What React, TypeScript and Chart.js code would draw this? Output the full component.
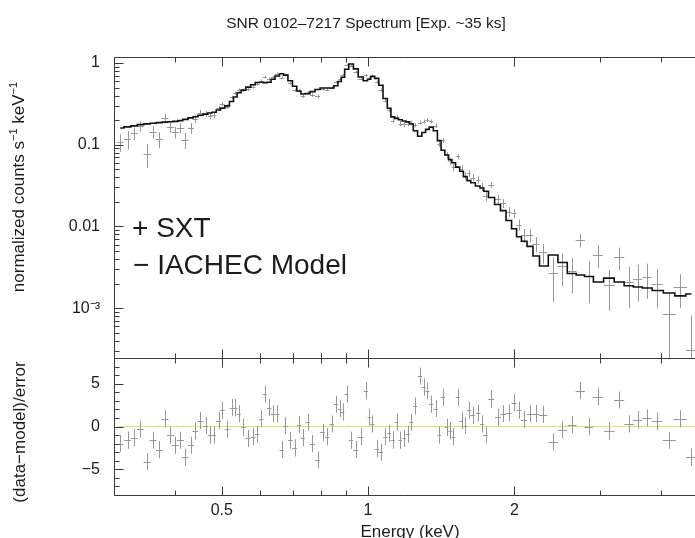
import React, { useEffect, useRef } from 'react';
import { Chart, registerables } from 'chart.js';

Chart.register(...registerables);

// ---------------- data ----------------
const energyKeV = [
  0.309, 0.320, 0.330, 0.340, 0.351, 0.361, 0.372, 0.382, 0.392, 0.401,
  0.411, 0.420, 0.432, 0.441, 0.452, 0.463, 0.473, 0.481, 0.493, 0.501,
  0.513, 0.524, 0.533, 0.542, 0.554, 0.567, 0.580, 0.592, 0.603, 0.613,
  0.626, 0.637, 0.650, 0.664, 0.676, 0.692, 0.706, 0.721, 0.734, 0.751,
  0.768, 0.787, 0.806, 0.824, 0.842, 0.859, 0.875, 0.887, 0.903, 0.922,
  0.944, 0.965, 0.990, 1.005, 1.021, 1.043, 1.061, 1.086, 1.105, 1.124,
  1.145, 1.165, 1.186, 1.207, 1.228, 1.250, 1.279, 1.302, 1.325, 1.348,
  1.377, 1.401, 1.426, 1.452, 1.477, 1.498, 1.530, 1.557, 1.585, 1.613,
  1.641, 1.685, 1.715, 1.746, 1.793, 1.850, 1.896, 1.950, 1.998, 2.045,
  2.092, 2.156, 2.214, 2.293, 2.407, 2.512, 2.630, 2.734, 2.846, 2.973,
  3.135, 3.287, 3.445, 3.588, 3.750, 3.938, 4.169, 4.392, 4.630,
];

const binHalfWidthKeV = [
  0.005, 0.005, 0.0055, 0.0055, 0.006, 0.006, 0.006, 0.0065, 0.0065, 0.0065,
  0.007, 0.007, 0.006, 0.006, 0.006, 0.0055, 0.005, 0.005, 0.006, 0.006,
  0.006, 0.005, 0.005, 0.005, 0.006, 0.0065, 0.0065, 0.006, 0.006, 0.006,
  0.0065, 0.0065, 0.007, 0.007, 0.007, 0.0075, 0.0075, 0.007, 0.007, 0.008,
  0.009, 0.009, 0.009, 0.009, 0.009, 0.008, 0.007, 0.007, 0.008, 0.010,
  0.011, 0.012, 0.010, 0.008, 0.010, 0.011, 0.011, 0.011, 0.010, 0.010,
  0.010, 0.010, 0.011, 0.011, 0.011, 0.012, 0.013, 0.012, 0.012, 0.013,
  0.014, 0.012, 0.013, 0.013, 0.012, 0.013, 0.015, 0.014, 0.014, 0.014,
  0.018, 0.018, 0.016, 0.020, 0.026, 0.026, 0.026, 0.025, 0.024, 0.024,
  0.030, 0.032, 0.035, 0.045, 0.055, 0.055, 0.055, 0.060, 0.060, 0.070,
  0.080, 0.080, 0.080, 0.075, 0.080, 0.100, 0.130, 0.140, 0.120,
];

const modelCounts = [
  0.160, 0.165, 0.170, 0.176, 0.180, 0.183, 0.186, 0.189, 0.191, 0.193,
  0.197, 0.204, 0.213, 0.220, 0.229, 0.237, 0.244, 0.250, 0.266, 0.280,
  0.299, 0.338, 0.383, 0.432, 0.466, 0.506, 0.541, 0.577, 0.581, 0.575,
  0.581, 0.632, 0.693, 0.740, 0.711, 0.607, 0.520, 0.454, 0.418, 0.422,
  0.446, 0.474, 0.494, 0.494, 0.494, 0.526, 0.594, 0.670, 0.840, 0.970,
  0.847, 0.674, 0.607, 0.632, 0.685, 0.648, 0.533, 0.367, 0.279, 0.219,
  0.210, 0.202, 0.195, 0.190, 0.179, 0.148, 0.127, 0.141, 0.154, 0.164,
  0.148, 0.112, 0.0854, 0.0748, 0.0657, 0.0602, 0.0532, 0.0473, 0.0407, 0.0363,
  0.0342, 0.0312, 0.0295, 0.0269, 0.0226, 0.0185, 0.0156, 0.0118, 0.00935, 0.00748,
  0.00657, 0.00569, 0.00434, 0.00327, 0.00447, 0.00361, 0.00265, 0.00254, 0.00244, 0.00209,
  0.00233, 0.00209, 0.00188, 0.00181, 0.00176, 0.00164, 0.00153, 0.00141, 0.00149,
];

const sxtCounts = [
  0.108, 0.117, 0.138, 0.169, 0.077, 0.143, 0.116, 0.212, 0.166, 0.142,
  0.160, 0.114, 0.160, 0.208, 0.244, 0.239, 0.224, 0.230, 0.279, 0.316,
  0.293, 0.380, 0.427, 0.464, 0.464, 0.474, 0.512, 0.555, 0.603, 0.670,
  0.636, 0.671, 0.733, 0.664, 0.714, 0.567, 0.463, 0.458, 0.392, 0.432,
  0.406, 0.392, 0.479, 0.469, 0.500, 0.583, 0.642, 0.713, 0.943, 0.920,
  0.771, 0.644, 0.708, 0.658, 0.693, 0.586, 0.467, 0.345, 0.266, 0.197,
  0.217, 0.181, 0.177, 0.179, 0.185, 0.174, 0.186, 0.192, 0.200, 0.193,
  0.171, 0.103, 0.113, 0.0741, 0.0625, 0.053, 0.0719, 0.0508, 0.0412, 0.0445,
  0.0395, 0.0373, 0.0306, 0.0235, 0.0322, 0.0215, 0.0192, 0.0152, 0.0144, 0.0105,
  0.00777, 0.0078, 0.0061, 0.0048, 0.00267, 0.00325, 0.00283, 0.0068, 0.00244, 0.0045,
  0.00193, 0.0042, 0.0021, 0.0023, 0.0024, 0.0020, 0.00085, 0.0018, 0.00031,
];

const sxtCountsErr = [
  0.026, 0.030, 0.025, 0.025, 0.025, 0.025, 0.026, 0.026, 0.025, 0.023,
  0.023, 0.025, 0.024, 0.024, 0.022, 0.021, 0.020, 0.020, 0.019, 0.019,
  0.019, 0.019, 0.020, 0.021, 0.022, 0.023, 0.024, 0.025, 0.025, 0.025,
  0.025, 0.026, 0.027, 0.028, 0.027, 0.025, 0.023, 0.021, 0.020, 0.020,
  0.020, 0.021, 0.021, 0.021, 0.021, 0.022, 0.023, 0.025, 0.027, 0.030,
  0.028, 0.025, 0.024, 0.024, 0.025, 0.024, 0.022, 0.018, 0.016, 0.014,
  0.013, 0.013, 0.013, 0.012, 0.012, 0.011, 0.010, 0.011, 0.011, 0.011,
  0.011, 0.009, 0.008, 0.007, 0.0065, 0.006, 0.0055, 0.005, 0.0046, 0.0043,
  0.0041, 0.0038, 0.0036, 0.0034, 0.0030, 0.0027, 0.0024, 0.0021, 0.0018, 0.0016,
  0.0015, 0.0014, 0.0013, 0.0013, 0.0015, 0.0014, 0.0013, 0.0013, 0.0013, 0.0014,
  0.0010, 0.0013, 0.0011, 0.0011, 0.0011, 0.0010, 0.0007, 0.0008, 0.0005,
];

const residuals = [
  -2.0, -1.6, -1.3, -0.3, -4.1, -1.6, -2.7, 0.9, -1.0, -2.2,
  -1.6, -3.6, -2.2, -0.5, 0.7, 0.1, -1.0, -1.0, 0.7, 1.9,
  -0.3, 2.2, 2.2, 1.5, -0.1, -1.4, -1.2, -0.9, 0.9, 3.8,
  2.2, 1.5, 1.5, -2.7, 0.1, -1.6, -2.5, 0.2, -1.3, 0.5,
  -2.0, -3.9, -0.7, -1.2, 0.3, 2.6, 2.1, 1.7, 3.8, -1.6,
  -2.7, -1.2, 4.2, 1.1, 0.3, -2.6, -3.0, -1.2, -0.8, -1.6,
  0.5, -1.6, -1.4, -0.9, 0.5, 2.4, 5.9, 4.6, 4.2, 2.6,
  2.1, -1.0, 3.4, -0.1, -0.5, -1.2, 3.4, 0.7, 0.1, 1.9,
  1.3, 1.6, 0.3, -1.0, 3.2, 1.1, 1.5, 1.6, 2.8, 1.9,
  0.8, 1.5, 1.5, 1.4, -1.8, -0.4, 0.2, 4.2, 0.0, 3.5,
  -0.5, 3.1, 0.3, 0.8, 1.0, 0.6, -1.6, 0.9, -3.6,
];
const residualSigma = 1;
const zeroLevel = 0;

const legendLabels = ['SXT', 'IACHEC Model'];
const chartTitle = 'SNR 0102\u20137217 Spectrum [Exp. ~35 ks]';
const xAxisTitle = 'Energy (keV)';
const residAxisTitle = '(data\u2212model)/error';

const xRange = [0.3053, 4.708];
const countsRange = [2.45e-4, 1.184];
const residRange = [-8, 8];

const xMajorTickValues = [0.5, 1, 2];
const xMajorTickLabels = ['0.5', '1', '2'];
const xMinorTickValues = [0.4, 0.6, 0.7, 0.8, 0.9, 3, 4];
const countsMajorTickValues = [1, 0.1, 0.01, 0.001];
const countsMajorTickLabels = ['1', '0.1', '0.01', '10\u207B\u00B3'];
const countsMinorMultipliers = [2, 3, 4, 5, 6, 7, 8, 9];
const countsMinorDecades = [1e-4, 1e-3, 1e-2, 1e-1];
const residMajorTickValues = [5, 0, -5];
const residMajorTickLabels = ['5', '0', '\u22125'];
const residMinorTickValues = [-8, -7, -6, -4, -3, -2, -1, 1, 2, 3, 4, 6, 7, 8];

// ---------------- styles ----------------
const FONT = '"Liberation Sans", Arial, Helvetica, sans-serif';
const TEXT = '#1c1c1c';
const FRAME = '#3a3a3a';
const DATA_GREY = '#979797';
const MODEL = '#111111';
const ZERO = '#cfdf9c';

function makeFramePlugin(cfg: { yMajor: number[]; yMinor: number[] }) {
  return {
    id: 'frameTicks',
    afterDraw(chart: any) {
      const { ctx, chartArea: a } = chart;
      const xs = chart.scales.x;
      const ys = chart.scales.y;
      const L = Math.round(a.left) + 0.5;
      const T = Math.round(a.top) + 0.5;
      const B = Math.round(a.bottom) + 0.5;
      const R = a.right;
      ctx.save();
      ctx.strokeStyle = FRAME;
      ctx.lineWidth = 1;
      ctx.beginPath();
      ctx.moveTo(L, T); ctx.lineTo(R, T);
      ctx.moveTo(L, B); ctx.lineTo(R, B);
      ctx.moveTo(L, T); ctx.lineTo(L, B);
      const xt = (v: number, len: number) => {
        const p = Math.round(xs.getPixelForValue(v)) + 0.5;
        ctx.moveTo(p, T); ctx.lineTo(p, T + len);
        ctx.moveTo(p, B); ctx.lineTo(p, B - len);
      };
      xMajorTickValues.forEach((v) => xt(v, 9));
      xMinorTickValues.forEach((v) => xt(v, 5));
      const yt = (v: number, len: number) => {
        const p = Math.round(ys.getPixelForValue(v)) + 0.5;
        ctx.moveTo(L, p); ctx.lineTo(L + len, p);
      };
      cfg.yMajor.forEach((v) => yt(v, 9));
      cfg.yMinor.forEach((v) => yt(v, 5));
      ctx.stroke();
      ctx.restore();
    },
  };
}

function makeErrorBarPlugin(datasetIndex: number, layer: 'before' | 'after') {
  const draw = (chart: any) => {
    const { ctx, chartArea: a } = chart;
    const xs = chart.scales.x;
    const ys = chart.scales.y;
    const pts = chart.data.datasets[datasetIndex].data;
    const isLog = ys.type === 'logarithmic';
    ctx.save();
    ctx.beginPath();
    ctx.rect(a.left, a.top, a.right - a.left, a.bottom - a.top);
    ctx.clip();
    ctx.strokeStyle = DATA_GREY;
    ctx.lineWidth = 1;
    ctx.beginPath();
    pts.forEach((p: any) => {
      const px = Math.round(xs.getPixelForValue(p.x)) + 0.5;
      const py = Math.round(ys.getPixelForValue(p.y)) + 0.5;
      const xl = xs.getPixelForValue(p.x - p.xErr);
      const xr = xs.getPixelForValue(p.x + p.xErr);
      const lo = p.y - p.yErr;
      const yb = !isLog || lo > 0 ? ys.getPixelForValue(lo) : a.bottom + 5;
      const yt = ys.getPixelForValue(p.y + p.yErr);
      ctx.moveTo(xl, py); ctx.lineTo(xr, py);
      ctx.moveTo(px, yt); ctx.lineTo(px, yb);
    });
    ctx.stroke();
    ctx.restore();
  };
  return layer === 'before'
    ? { id: 'errorBars', beforeDatasetsDraw: draw }
    : { id: 'errorBars', afterDatasetsDraw: draw };
}

type Part = { text: string; size: number; raise: number };
function drawRotated(ctx: any, parts: Part[], baseX: number, centerY: number) {
  ctx.save();
  ctx.translate(baseX, centerY);
  ctx.rotate(-Math.PI / 2);
  ctx.textAlign = 'left';
  ctx.textBaseline = 'alphabetic';
  ctx.fillStyle = TEXT;
  let total = 0;
  const widths = parts.map((p) => {
    ctx.font = `${p.size}px ${FONT}`;
    const w = ctx.measureText(p.text).width;
    total += w;
    return w;
  });
  let x = -total / 2;
  parts.forEach((p, i) => {
    ctx.font = `${p.size}px ${FONT}`;
    ctx.fillText(p.text, x, -p.raise);
    x += widths[i];
  });
  ctx.restore();
}

const topTextPlugin = {
  id: 'topTexts',
  afterDraw(chart: any) {
    const ctx = chart.ctx;
    ctx.save();
    ctx.fillStyle = TEXT;
    ctx.textBaseline = 'alphabetic';
    ctx.textAlign = 'center';
    ctx.font = `15.5px ${FONT}`;
    ctx.fillText(chartTitle, 366, 28);
    ctx.textAlign = 'left';
    ctx.font = `28px ${FONT}`;
    ctx.fillText('+ ' + legendLabels[0], 132, 237);
    ctx.fillText('\u2212 ' + legendLabels[1], 133, 274);
    ctx.restore();
    drawRotated(
      ctx,
      [
        { text: 'normalized counts s', size: 17, raise: 0 },
        { text: '\u22121', size: 11, raise: 7 },
        { text: ' keV', size: 17, raise: 0 },
        { text: '\u22121', size: 11, raise: 7 },
      ],
      24,
      187
    );
  },
};

const bottomTextPlugin = {
  id: 'bottomTexts',
  afterDraw(chart: any) {
    const ctx = chart.ctx;
    drawRotated(ctx, [{ text: residAxisTitle, size: 17, raise: 0 }], 24.5, 82);
    ctx.save();
    ctx.fillStyle = TEXT;
    ctx.textAlign = 'center';
    ctx.textBaseline = 'alphabetic';
    ctx.font = `17px ${FONT}`;
    ctx.fillText(xAxisTitle, 410, 187);
    ctx.restore();
  },
};

const labelFor = (values: number[], labels: string[]) => (v: any) => {
  const i = values.indexOf(Number(v));
  return i >= 0 ? labels[i] : '';
};

export default function App() {
  const topRef = useRef<HTMLCanvasElement>(null);
  const botRef = useRef<HTMLCanvasElement>(null);

  useEffect(() => {
    const specPts = energyKeV.map((e, i) => ({ x: e, y: sxtCounts[i], xErr: binHalfWidthKeV[i], yErr: sxtCountsErr[i] }));
    const modelPts = energyKeV.map((e, i) => ({ x: e, y: modelCounts[i] }));
    const residPts = energyKeV.map((e, i) => ({ x: e, y: residuals[i], xErr: binHalfWidthKeV[i], yErr: residualSigma }));
    const zeroPts = [{ x: xRange[0], y: zeroLevel }, { x: xRange[1], y: zeroLevel }];

    const countsMinor: number[] = [];
    countsMinorDecades.forEach((d) =>
      countsMinorMultipliers.forEach((m) => {
        const v = m * d;
        if (v > countsRange[0] && v < countsRange[1]) countsMinor.push(v);
      })
    );

    const tickFont = { family: FONT, size: 16 };

    const top = new Chart(topRef.current as HTMLCanvasElement, {
      type: 'scatter',
      data: {
        datasets: [
          {
            type: 'line',
            label: legendLabels[1],
            data: modelPts,
            borderColor: MODEL,
            borderWidth: 1.6,
            pointRadius: 0,
            stepped: 'middle',
            fill: false,
          } as any,
          {
            type: 'scatter',
            label: legendLabels[0],
            data: specPts,
            pointRadius: 0,
          } as any,
        ],
      },
      options: {
        animation: false,
        responsive: false,
        devicePixelRatio: 1,
        events: [],
        layout: { autoPadding: false, padding: { top: 57, bottom: 2, left: 0, right: 0 } },
        plugins: { legend: { display: false }, tooltip: { enabled: false }, title: { display: false } },
        scales: {
          x: { type: 'logarithmic', min: xRange[0], max: xRange[1], display: false },
          y: {
            type: 'logarithmic',
            position: 'left',
            min: countsRange[0],
            max: countsRange[1],
            grid: { display: false, drawTicks: false },
            border: { display: false },
            afterBuildTicks: (s: any) => {
              s.ticks = countsMajorTickValues.map((v) => ({ value: v }));
            },
            ticks: {
              padding: 14,
              color: TEXT,
              font: tickFont,
              autoSkip: false,
              callback: labelFor(countsMajorTickValues, countsMajorTickLabels),
            },
            afterFit: (s: any) => {
              s.width = 114;
              s.paddingTop = 0;
              s.paddingBottom = 0;
            },
          },
        },
      } as any,
      plugins: [makeErrorBarPlugin(1, 'before'), makeFramePlugin({ yMajor: countsMajorTickValues, yMinor: countsMinor }), topTextPlugin],
    });

    const bot = new Chart(botRef.current as HTMLCanvasElement, {
      type: 'scatter',
      data: {
        datasets: [
          { type: 'scatter', label: 'residuals', data: residPts, pointRadius: 0 } as any,
          {
            type: 'line',
            label: 'zero',
            data: zeroPts,
            borderColor: ZERO,
            borderWidth: 1.2,
            pointRadius: 0,
            fill: false,
          } as any,
        ],
      },
      options: {
        animation: false,
        responsive: false,
        devicePixelRatio: 1,
        events: [],
        layout: { autoPadding: false, padding: { top: 8, bottom: 0, left: 0, right: 0 } },
        plugins: { legend: { display: false }, tooltip: { enabled: false }, title: { display: false } },
        scales: {
          x: {
            type: 'logarithmic',
            position: 'bottom',
            min: xRange[0],
            max: xRange[1],
            grid: { display: false, drawTicks: false },
            border: { display: false },
            afterBuildTicks: (s: any) => {
              s.ticks = xMajorTickValues.map((v) => ({ value: v }));
            },
            ticks: {
              padding: 6,
              color: TEXT,
              font: tickFont,
              autoSkip: false,
              maxRotation: 0,
              callback: labelFor(xMajorTickValues, xMajorTickLabels),
            },
            afterFit: (s: any) => {
              s.height = 43;
              s.paddingLeft = 0;
              s.paddingRight = 0;
            },
          },
          y: {
            type: 'linear',
            position: 'left',
            min: residRange[0],
            max: residRange[1],
            grid: { display: false, drawTicks: false },
            border: { display: false },
            afterBuildTicks: (s: any) => {
              s.ticks = residMajorTickValues.map((v) => ({ value: v }));
            },
            ticks: {
              padding: 14,
              color: TEXT,
              font: tickFont,
              autoSkip: false,
              callback: labelFor(residMajorTickValues, residMajorTickLabels),
            },
            afterFit: (s: any) => {
              s.width = 114;
              s.paddingTop = 0;
              s.paddingBottom = 0;
            },
          },
        },
      } as any,
      plugins: [makeErrorBarPlugin(0, 'after'), makeFramePlugin({ yMajor: residMajorTickValues, yMinor: residMinorTickValues }), bottomTextPlugin],
    });

    return () => {
      top.destroy();
      bot.destroy();
    };
  }, []);

  return (
    <div style={{ position: 'fixed', left: 0, top: 0, width: 695, height: 538, background: '#fff', overflow: 'hidden' }}>
      <canvas ref={topRef} width={695} height={360} style={{ position: 'absolute', left: 0, top: 0, width: 695, height: 360 }} />
      <canvas ref={botRef} width={695} height={188} style={{ position: 'absolute', left: 0, top: 350, width: 695, height: 188 }} />
    </div>
  );
}
